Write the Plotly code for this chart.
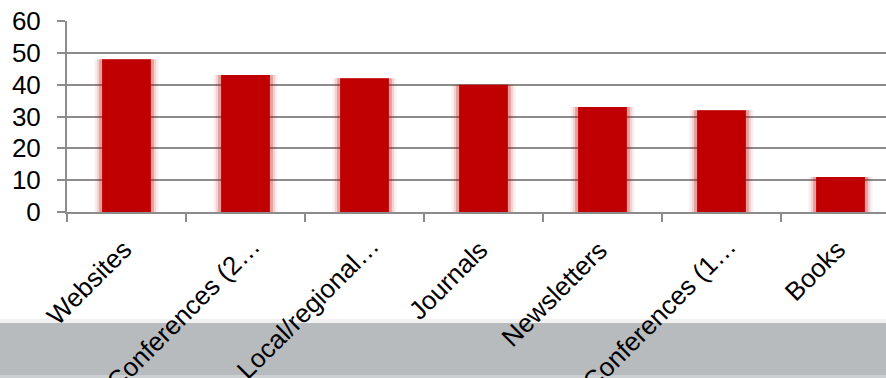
import plotly.graph_objects as go

# Survey responses per information source
categories = ["Websites", "Conferences (2…", "Local/regional…", "Journals",
              "Newsletters", "Conferences (1…", "Books"]
values = [48, 43, 42, 40, 33, 32, 11]
y_ticks = [0, 10, 20, 30, 40, 50, 60]

W, H = 886, 378
M_L, M_R, M_T, M_B = 67, 0, 21, 166
plot_h = H - M_T - M_B
plot_w = W - M_L - M_R
CAT_PX = 119  # pixel width of one category slot

def paper_y(px):
    # convert a pixel row (from top) to paper coordinates
    return (H - M_B - px) / plot_h

RED = "#C00000"
FONT = "Liberation Sans, Arial, sans-serif"
GRID = "#8C8C8C"
LABEL_FS = 26
LABEL_DX, LABEL_DY = 13, -20   # offset of the rotated label box from the tick
TRUNC_DX, TRUNC_DY = 10, 4     # truncated labels sit a little further up-right

fig = go.Figure()

# soft halo around each bar
for w, col in [(0.54, "rgba(192,0,0,0.06)"), (0.50, "rgba(192,0,0,0.12)"),
               (0.46, "rgba(192,0,0,0.25)")]:
    fig.add_trace(go.Bar(x=categories, y=values, width=w,
                         marker=dict(color=col, line=dict(width=0)),
                         hoverinfo="skip", showlegend=False))

fig.add_trace(go.Bar(x=categories, y=values, width=0.41,
                     marker=dict(color=RED, line=dict(width=0)),
                     showlegend=False))

# grey band behind the category labels
shapes = [
    dict(type="rect", xref="paper", yref="paper", x0=-1, x1=2,
         y0=paper_y(323), y1=paper_y(319), fillcolor="#F1F1F2",
         line=dict(width=0), layer="below"),
    dict(type="rect", xref="paper", yref="paper", x0=-1, x1=2,
         y0=paper_y(375), y1=paper_y(323), fillcolor="#B8BBBE",
         line=dict(width=0), layer="below"),
    dict(type="rect", xref="paper", yref="paper", x0=-1, x1=2,
         y0=paper_y(378), y1=paper_y(375), fillcolor="#CDD0D2",
         line=dict(width=0), layer="below"),
]

# rotated category labels
annotations = []
for cat in categories:
    trunc = cat.endswith("…")
    annotations.append(dict(
        x=cat, xref="x", y=0, yref="paper", text=cat, showarrow=False,
        textangle=-45, xanchor="right", yanchor="top",
        xshift=LABEL_DX + (TRUNC_DX if trunc else 0),
        yshift=LABEL_DY + (TRUNC_DY if trunc else 0),
        font=dict(family=FONT, size=LABEL_FS, color="#000"),
    ))

fig.update_layout(
    width=W, height=H,
    margin=dict(l=M_L, r=M_R, t=M_T, b=M_B, pad=0),
    paper_bgcolor="white", plot_bgcolor="white",
    barmode="overlay",
    shapes=shapes,
    annotations=annotations,
    font=dict(family=FONT, size=26, color="#000000"),
    xaxis=dict(
        type="category", tickson="boundaries", showticklabels=False,
        range=[-0.5, -0.5 + plot_w / CAT_PX], automargin=False,
        ticks="outside", ticklen=8, tickcolor=GRID, tickwidth=2,
        showline=True, linecolor=GRID, linewidth=2, showgrid=False,
    ),
    yaxis=dict(
        range=[0, 60], tickvals=y_ticks, ticks="outside", ticklen=8,
        tickcolor=GRID, tickwidth=2, showline=True, linecolor=GRID,
        linewidth=2, showgrid=True, gridcolor=GRID, gridwidth=2,
        zeroline=False, ticklabelstandoff=11, automargin=False,
        tickfont=dict(size=26, family=FONT, color="#000"),
    ),
)

fig.write_html("out.html")
